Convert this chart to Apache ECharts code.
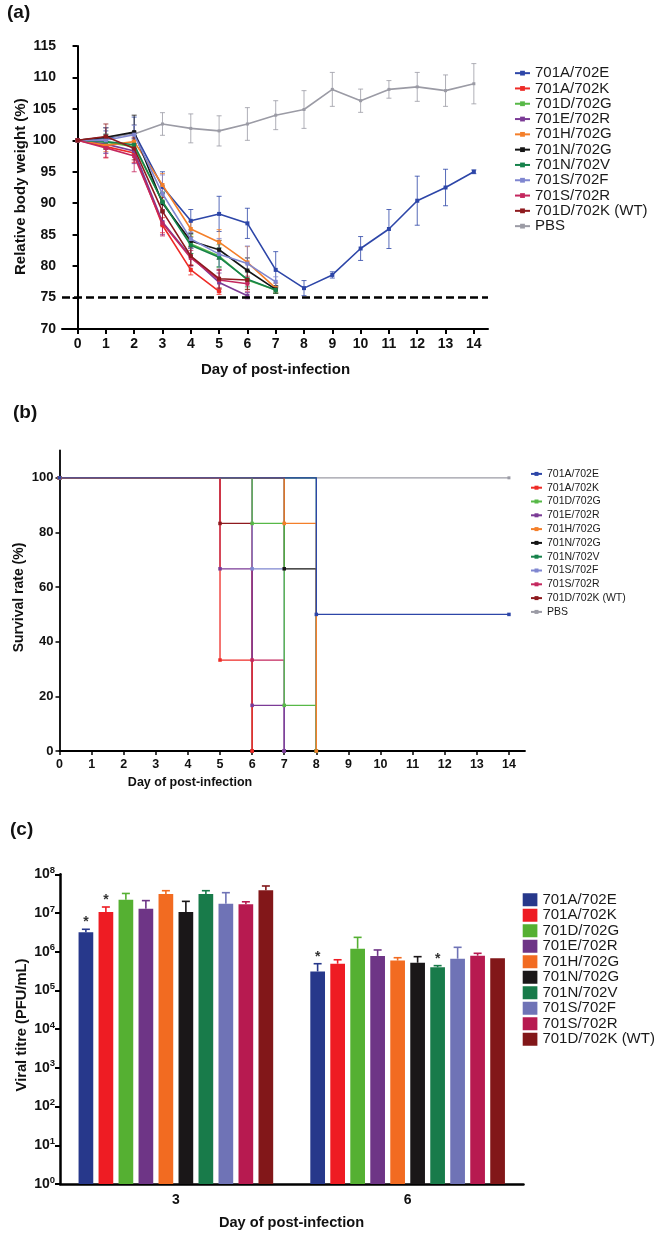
<!DOCTYPE html>
<html><head><meta charset="utf-8">
<script src="https://cdn.jsdelivr.net/npm/echarts@6/dist/echarts.min.js"></script>
<style>html,body{margin:0;padding:0;background:#fff}#c{width:666px;height:1243px}</style>
</head><body><div id="c"></div>
<script>
// ---------- names & colours ----------
const groups = ['701A/702E','701A/702K','701D/702G','701E/702R','701H/702G','701N/702G','701N/702V','701S/702F','701S/702R','701D/702K (WT)'];
const pbsName = 'PBS';
const lineColors = ['#2d46a8','#ee2b26','#57b847','#7b3b96','#f47f2a','#151515','#16824b','#7f86d0','#c4275e','#8e1a1e'];
const pbsColor = '#9b9ba5';
const barColors = ['#27388b','#ee1c23','#55b032','#6e3586','#f26b21','#1a1718','#187b4a','#6f73b6','#b71a50','#821719'];

// ---------- (a) relative body weight (%) by day ----------
const days = [0,1,2,3,4,5,6,7,8,9,10,11,12,13,14];
const dayTicks = [0,1,2,3,4,5,6,7,8,9,10,11,12,13,14];
const w_701A_702E = [100,100.3,101.2,92.6,87.2,88.3,86.8,79.4,76.5,78.6,82.8,85.9,90.4,92.5,95.0];
const e_701A_702E = [0,1.2,2.5,2.4,1.8,2.8,2.4,2.9,1.2,0.5,1.9,3.1,3.9,2.9,0.3];
const w_701A_702K = [100,99.0,98.0,86.5,79.4,76.0];
const e_701A_702K = [0,1.8,1.5,1.2,0.8,0.5];
const w_701D_702G = [100,99.7,99.0,90.3,83.5,81.6,77.8,76.2];
const e_701D_702G = [0,1.0,1.2,1.5,1.5,1.8,1.5,0.5];
const w_701E_702R = [100,99.4,98.3,87.0,81.5,77.4,75.3];
const e_701E_702R = [0,1.5,2.0,2.0,1.5,1.5,0.5];
const w_701H_702G = [100,99.2,99.8,92.9,85.9,83.8,80.6,76.5];
const e_701H_702G = [0,1.0,1.5,1.8,1.2,2.0,2.5,0.8];
const w_701N_702G = [100,100.5,101.3,90.0,84.0,82.6,79.3,76.3];
const e_701N_702G = [0,1.5,2.7,1.5,1.2,1.5,2.0,0.6];
const w_701N_702V = [100,99.8,99.3,90.2,83.3,81.4,77.9,76.2];
const e_701N_702V = [0,1.2,1.5,1.5,1.3,1.5,1.2,0.5];
const w_701S_702F = [100,100.0,100.9,91.5,84.3,81.9,80.4,77.5];
const e_701S_702F = [0,2.0,1.5,3.0,1.5,2.5,2.8,0.8];
const w_701S_702R = [100,98.8,97.5,86.8,81.3,77.8,77.2];
const e_701S_702R = [0,1.5,2.5,2.0,1.2,1.5,1.2];
const w_701D_702K = [100,100.6,98.7,88.7,81.6,78.0,77.8];
const e_701D_702K = [0,2.0,1.8,2.2,1.5,1.5,1.5];
const w_PBS = [100,100.5,101.0,102.6,101.9,101.5,102.6,104.0,104.9,108.1,106.3,108.1,108.5,107.9,109.0];
const e_PBS = [0,1.5,1.5,1.8,2.3,2.4,2.6,2.3,3.0,2.7,1.85,1.4,2.3,2.5,3.2];
const cutoff = 75;

// ---------- (b) survival rate (%) : [day, percent] steps ----------
const survTicks = [0,20,40,60,80,100];
const s_701A_702E = [[0,100],[8,50],[14,50]];
const s_701A_702K = [[0,100],[5,33.3],[6,0]];
const s_701D_702G = [[0,100],[6,83.3],[7,16.7],[8,0]];
const s_701E_702R = [[0,100],[5,66.7],[6,16.7],[7,0]];
const s_701H_702G = [[0,100],[7,83.3],[8,0]];
const s_701N_702G = [[0,100],[7,66.7],[8,0]];
const s_701N_702V = [[0,100],[8,0]];
const s_701S_702F = [[0,100],[6,66.7],[7,0]];
const s_701S_702R = [[0,100],[6,33.3],[7,0]];
const s_701D_702K = [[0,100],[5,83.3],[6,0]];
const s_PBS = [[0,100],[14,100]];

// ---------- (c) viral titre (PFU/mL) ----------
const titreDays = ['3','6'];
const titreDay3    = [3.2e6,1.06e7,2.2e7,1.29e7,3.1e7,1.06e7,3.1e7,1.74e7,1.68e7,3.86e7];
const titreDay3Err = [3.8e6,1.43e7,3.2e7,2.09e7,3.77e7,2.0e7,3.77e7,3.35e7,1.95e7,4.99e7];
const titreDay6    = [3.1e5,4.9e5,1.2e6,7.8e5,5.9e5,5.2e5,3.96e5,6.6e5,7.9e5,6.8e5];
const titreDay6Err = [4.9e5,6.2e5,2.35e6,1.11e6,7.0e5,7.45e5,4.37e5,1.3e6,9.1e5,6.8e5];
const sigDay3 = [1,1,0,0,0,0,0,0,0,0];
const sigDay6 = [1,0,0,0,0,0,1,0,0,0];

// ---------- build ----------
const FONT = "'Liberation Sans', Arial, sans-serif";
const weightSets = [
  [w_701A_702E,e_701A_702E],[w_701A_702K,e_701A_702K],[w_701D_702G,e_701D_702G],[w_701E_702R,e_701E_702R],
  [w_701H_702G,e_701H_702G],[w_701N_702G,e_701N_702G],[w_701N_702V,e_701N_702V],[w_701S_702F,e_701S_702F],
  [w_701S_702R,e_701S_702R],[w_701D_702K,e_701D_702K]
];
const survSets = [s_701A_702E,s_701A_702K,s_701D_702G,s_701E_702R,s_701H_702G,s_701N_702G,s_701N_702V,s_701S_702F,s_701S_702R,s_701D_702K];
const survDrawOrder = [6,9,8,7,5,3,2,1,4,0];

const series = [];
function errSeries(vals, errs, color) {
  return {
    type:'custom', xAxisIndex:0, yAxisIndex:0, z:1, silent:true,
    data: vals.map((v,i)=>[days[i], v, errs[i]]),
    renderItem(params, api) {
      const x = api.value(0), m = api.value(1), e = api.value(2);
      if (!(e > 0)) return null;
      const p1 = api.coord([x, m + e]), p2 = api.coord([x, m - e]);
      const st = {stroke: color, lineWidth: 1, opacity: 0.8};
      return {type:'group', children:[
        {type:'line', shape:{x1:p1[0],y1:p1[1],x2:p2[0],y2:p2[1]}, style:st},
        {type:'line', shape:{x1:p1[0]-2.5,y1:p1[1],x2:p1[0]+2.5,y2:p1[1]}, style:st},
        {type:'line', shape:{x1:p2[0]-2.5,y1:p2[1],x2:p2[0]+2.5,y2:p2[1]}, style:st}
      ]};
    }
  };
}
series.push(errSeries(w_PBS, e_PBS, pbsColor));
weightSets.forEach((s,i)=>series.push(errSeries(s[0], s[1], lineColors[i])));
groups.forEach((g,i)=>{
  series.push({
    name:g, type:'line', xAxisIndex:0, yAxisIndex:0, z: 2 + i * 0.01,
    data: weightSets[i][0].map((v,k)=>[days[k], v]),
    symbol:'rect', symbolSize:4, lineStyle:{width:1.6, color:lineColors[i]},
    itemStyle:{color:lineColors[i]}
  });
});
series.push({
  name:pbsName, type:'line', xAxisIndex:0, yAxisIndex:0, z:2,
  data: w_PBS.map((v,k)=>[days[k], v]),
  symbol:'rect', symbolSize:3, lineStyle:{width:1.6, color:pbsColor}, itemStyle:{color:pbsColor},
  markLine:{silent:true, symbol:'none', label:{show:false},
    lineStyle:{color:'#000', type:[8,4], width:2.5}, data:[{yAxis:cutoff}]}
});

// (b) survival steps
series.push({name:pbsName, type:'line', step:'end', xAxisIndex:1, yAxisIndex:1, z:2,
  data:s_PBS, symbol:'rect', symbolSize:3, lineStyle:{width:1.3,color:pbsColor}, itemStyle:{color:pbsColor}});
survDrawOrder.forEach(i=>{
  series.push({name:groups[i], type:'line', step:'end', xAxisIndex:1, yAxisIndex:1, z:2,
    data:survSets[i], symbol:'rect', symbolSize:3.5,
    lineStyle:{width:1.3,color:lineColors[i]}, itemStyle:{color:lineColors[i]}});
});

// (c) bars + error bars
const BAR_W = 14.7, BAR_PITCH = 20;
groups.forEach((g,i)=>{
  series.push({name:g, type:'bar', xAxisIndex:2, yAxisIndex:2, barWidth:BAR_W, barGap:'36%',
    data:[titreDay3[i], titreDay6[i]], itemStyle:{color:barColors[i]}});
});
groups.forEach((g,i)=>{
  series.push({type:'custom', xAxisIndex:2, yAxisIndex:2, z:5, silent:true,
    data:[[0,titreDay3[i],titreDay3Err[i],sigDay3[i]],[1,titreDay6[i],titreDay6Err[i],sigDay6[i]]],
    encode:{x:0,y:1},
    renderItem(params, api){
      const c = api.value(0);
      const top = api.coord([c, api.value(1)]);
      const et = api.coord([c, api.value(2)]);
      const x = top[0] + (i - (groups.length-1)/2) * BAR_PITCH;
      const ch = [];
      const st = {stroke:barColors[i], lineWidth:1.6};
      if (api.value(2) > api.value(1)) {
        ch.push({type:'line', shape:{x1:x,y1:top[1],x2:x,y2:et[1]}, style:st});
        ch.push({type:'line', shape:{x1:x-4,y1:et[1],x2:x+4,y2:et[1]}, style:st});
      }
      if (api.value(3)) ch.push({type:'text', x:x, y:Math.min(et[1],top[1]) - 7,
        style:{text:'*', font:'bold 14px '+FONT, fill:'#333', align:'center', verticalAlign:'middle'}});
      return {type:'group', children:ch};
    }});
});

const boldLab = (size)=>({fontFamily:FONT, fontWeight:'bold', fontSize:size, color:'#111'});
const axisLine = (w)=>({show:true, lineStyle:{color:'#000', width:w}});

const option = {
  animation:false,
  backgroundColor:'#fff',
  textStyle:{fontFamily:FONT},
  grid:[
    {left:62, top:46, width:426, height:283},
    {left:59.5, top:450.5, width:465.5, height:300.5},
    {left:60, top:874.3, width:463.5, height:309.7}
  ],
  xAxis:[
    {type:'value', gridIndex:0, min:-0.55, max:14.5, axisLine:axisLine(2), splitLine:{show:false},
     axisTick:{show:true, customValues:dayTicks, length:5, lineStyle:{width:2,color:'#000'}},
     axisLabel:{customValues:dayTicks, margin:8, ...boldLab(14)}},
    {type:'value', gridIndex:1, min:0, max:14.5, axisLine:axisLine(1.8), splitLine:{show:false},
     axisTick:{show:true, customValues:dayTicks, length:4, lineStyle:{width:1.5,color:'#000'}},
     axisLabel:{customValues:dayTicks, margin:7, ...boldLab(12.5)}},
    {type:'category', gridIndex:2, data:titreDays, axisLine:axisLine(2.5), axisTick:{show:false},
     axisLabel:{margin:9, ...boldLab(14)}}
  ],
  yAxis:[
    {type:'value', gridIndex:0, min:70, max:115, interval:5, axisLine:axisLine(2), splitLine:{show:false},
     axisTick:{show:true, length:5, lineStyle:{width:2,color:'#000'}},
     axisLabel:{margin:6, ...boldLab(14)}},
    {type:'value', gridIndex:1, min:0, max:110, axisLine:axisLine(1.8), splitLine:{show:false},
     axisTick:{show:true, customValues:survTicks, length:4, lineStyle:{width:1.5,color:'#000'}},
     axisLabel:{customValues:survTicks, margin:6, ...boldLab(13)}},
    {type:'log', gridIndex:2, logBase:10, min:1, max:1e8, axisLine:axisLine(2.5), splitLine:{show:false},
     axisTick:{show:true, length:5, lineStyle:{width:2,color:'#000'}},
     minorTick:{show:false},
     axisLabel:{margin:5,
       formatter:(v)=>'{b|10}{s|'+Math.round(Math.log10(v))+'}',
       rich:{b:{fontFamily:FONT,fontWeight:'bold',fontSize:14,color:'#111',lineHeight:18},
             s:{fontFamily:FONT,fontWeight:'bold',fontSize:9.5,color:'#111',verticalAlign:'top',lineHeight:12}}}}
  ],
  legend:[
    {orient:'vertical', left:514, top:65.5, padding:0, itemGap:0, itemWidth:15, itemHeight:6, selectedMode:false,
     data:[...groups, pbsName], textStyle:{fontFamily:FONT, fontSize:15, color:'#1a1a1a', lineHeight:15.3}},
    {orient:'vertical', left:530, top:467, padding:0, itemGap:0, itemWidth:11, itemHeight:5, selectedMode:false,
     data:[...groups, pbsName], textStyle:{fontFamily:FONT, fontSize:10.5, color:'#1a1a1a', lineHeight:13.8}},
    {orient:'vertical', left:522.7, top:892, padding:0, itemGap:0, itemWidth:14.7, itemHeight:13, selectedMode:false,
     icon:'rect',
     data:groups.map((g,i)=>({name:g, icon:'rect', itemStyle:{color:barColors[i], borderWidth:0}})),
     textStyle:{fontFamily:FONT, fontSize:15, color:'#1a1a1a', lineHeight:15.5}}
  ],
  graphic:[
    {type:'text', x:7, y:13, style:{text:'(a)', font:'bold 19px '+FONT, fill:'#111', verticalAlign:'middle'}},
    {type:'text', x:13, y:413, style:{text:'(b)', font:'bold 19px '+FONT, fill:'#111', verticalAlign:'middle'}},
    {type:'text', x:10, y:830, style:{text:'(c)', font:'bold 19px '+FONT, fill:'#111', verticalAlign:'middle'}},
    {type:'text', x:20.7, y:186.7, rotation:Math.PI/2, style:{text:'Relative body weight (%)', font:'bold 15px '+FONT, fill:'#111', align:'center', verticalAlign:'middle'}},
    {type:'text', x:275.5, y:370, style:{text:'Day of post-infection', font:'bold 15px '+FONT, fill:'#111', align:'center', verticalAlign:'middle'}},
    {type:'text', x:18.7, y:597.5, rotation:Math.PI/2, style:{text:'Survival rate (%)', font:'bold 14px '+FONT, fill:'#111', align:'center', verticalAlign:'middle'}},
    {type:'text', x:190, y:783, style:{text:'Day of post-infection', font:'bold 12.5px '+FONT, fill:'#111', align:'center', verticalAlign:'middle'}},
    {type:'text', x:21.7, y:1025, rotation:Math.PI/2, style:{text:'Viral titre (PFU/mL)', font:'bold 14.7px '+FONT, fill:'#111', align:'center', verticalAlign:'middle'}},
    {type:'text', x:291.5, y:1223, style:{text:'Day of post-infection', font:'bold 14.6px '+FONT, fill:'#111', align:'center', verticalAlign:'middle'}}
  ],
  series
};
echarts.init(document.getElementById('c'), null, {renderer:'canvas'}).setOption(option);
</script></body></html>
